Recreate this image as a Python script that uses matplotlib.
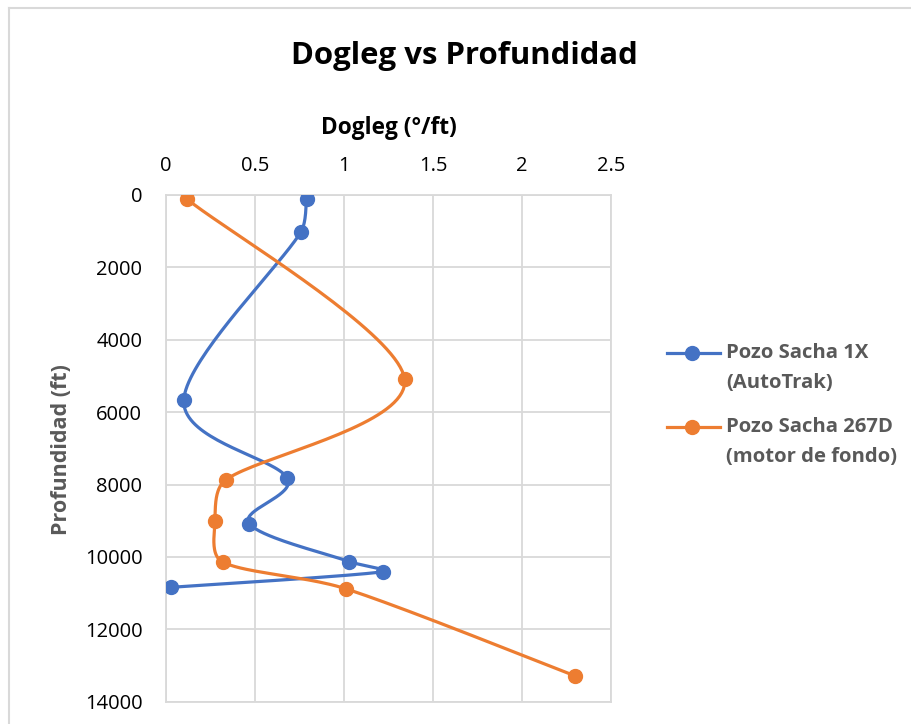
import matplotlib
matplotlib.use("Agg")
import matplotlib.pyplot as plt
import numpy as np
from matplotlib.lines import Line2D

# data
sacha_1x_dogleg = [0.79, 0.757, 0.10, 0.682, 0.468, 1.03, 1.217, 0.028]
sacha_1x_depth = [100, 1030, 5665, 7830, 9080, 10130, 10410, 10840]
sacha_267d_dogleg = [0.12, 1.34, 0.335, 0.275, 0.318, 1.01, 2.30]
sacha_267d_depth = [120, 5080, 7875, 9010, 10140, 10880, 13290]

x_ticks = [0, 0.5, 1, 1.5, 2, 2.5]
y_ticks = [0, 2000, 4000, 6000, 8000, 10000, 12000, 14000]
x_tick_labels = ["0", "0.5", "1", "1.5", "2", "2.5"]

series_names = ["Pozo Sacha 1X\n(AutoTrak)", "Pozo Sacha 267D\n(motor de fondo)"]
BLUE = "#4472C4"
ORANGE = "#ED7D31"
FONT = "Open Sans"


def smooth_curve(xs, ys, sx, sy, n=40):
    """Excel-like smoothed line: Catmull-Rom Bezier in screen space,
    with control arms clamped so sharp turns do not overshoot."""
    p = np.column_stack([np.asarray(xs, float) * sx, np.asarray(ys, float) * sy])
    out = []
    for i in range(len(p) - 1):
        p0 = p[i - 1] if i > 0 else p[i]
        p1, p2 = p[i], p[i + 1]
        p3 = p[i + 2] if i + 2 < len(p) else p[i + 1]
        seg_len = np.hypot(*(p2 - p1))
        t1 = (p2 - p0) / 6.0
        t2 = (p3 - p1) / 6.0
        for t in (t1, t2):
            n_t = np.hypot(*t)
            if n_t > seg_len / 3:
                t *= (seg_len / 3) / n_t
        c1 = p1 + t1
        c2 = p2 - t2
        s = np.linspace(0, 1, n)[:, None]
        seg = ((1 - s) ** 3) * p1 + 3 * ((1 - s) ** 2) * s * c1 + 3 * (1 - s) * s ** 2 * c2 + s ** 3 * p2
        out.append(seg if i == 0 else seg[1:])
    pts = np.vstack(out)
    return pts[:, 0] / sx, pts[:, 1] / sy


fig = plt.figure(figsize=(9.11, 7.24), dpi=100)
ax = fig.add_axes([0.1822, 0.0308, 0.4885, 0.6999])

# pixels per data unit, so the smoothing happens in screen space
sx = 445 / 2.5
sy = 507 / 14000

for xs, ys, color in [(sacha_1x_dogleg, sacha_1x_depth, BLUE),
                      (sacha_267d_dogleg, sacha_267d_depth, ORANGE)]:
    cx, cy = smooth_curve(xs, ys, sx, sy)
    ax.plot(cx, cy, color=color, linewidth=2.3, solid_capstyle="round", zorder=3)
    ax.plot(xs, ys, linestyle="none", marker="o", markersize=10,
            color=color, zorder=4)

ax.set_xlim(0, 2.5)
ax.set_ylim(14000, 0)
ax.set_xticks(x_ticks)
ax.set_xticklabels(x_tick_labels)
ax.set_yticks(y_ticks)
ax.xaxis.tick_top()
ax.xaxis.set_label_position("top")
ax.tick_params(axis="both", length=0, labelsize=14.5, labelcolor="black")
ax.tick_params(axis="y", pad=17)
ax.tick_params(axis="x", pad=14)
for lab in ax.get_xticklabels() + ax.get_yticklabels():
    lab.set_fontfamily(FONT)

ax.grid(True, color="#D9D9D9", linewidth=1.3)
ax.set_axisbelow(True)
for spine in ax.spines.values():
    spine.set_color("#D9D9D9")
    spine.set_linewidth(1.3)

ax.set_xlabel("Dogleg (°/ft)", fontsize=16.3, fontweight="bold", fontfamily=FONT)
ax.set_ylabel("Profundidad (ft)", fontsize=15.5, fontweight="bold",
              fontfamily=FONT, color="#595959")
ax.xaxis.set_label_coords(0.5, 1.132)
ax.xaxis.label.set_va("center")
ax.yaxis.set_label_coords(-0.234, 0.497)
ax.yaxis.label.set_va("center")

fig.text(0.510, 0.923, "Dogleg vs Profundidad", ha="center", va="center",
         fontsize=22.4, fontweight="bold", fontfamily=FONT)

# legend drawn by hand: Excel aligns the key with the first text line
W, H = 911, 724
for name, color, y_px in [(series_names[0], BLUE, 353), (series_names[1], ORANGE, 427)]:
    yf = 1 - y_px / H
    fig.add_artist(Line2D([667 / W, 720 / W], [yf, yf], transform=fig.transFigure,
                          color=color, linewidth=2.3))
    fig.add_artist(Line2D([692 / W], [yf], transform=fig.transFigure, color=color,
                          marker="o", markersize=10, linestyle="none"))
    first, second = name.split("\n")
    fig.text(726 / W, yf, first, ha="left", va="center",
             fontsize=14.6, fontweight="bold", fontfamily=FONT, color="#595959")
    fig.text(726 / W, yf - 30 / H, second, ha="left", va="center",
             fontsize=14.6, fontweight="bold", fontfamily=FONT, color="#595959")

# chart area border (Excel style)
fig.add_artist(Line2D([9 / W, 9 / W], [0, 1 - 8 / H], transform=fig.transFigure,
                      color="#D9D9D9", linewidth=1.5))
fig.add_artist(Line2D([9 / W, 1], [1 - 8 / H, 1 - 8 / H], transform=fig.transFigure,
                      color="#D9D9D9", linewidth=1.5))

fig.savefig("out.png", dpi=100)
